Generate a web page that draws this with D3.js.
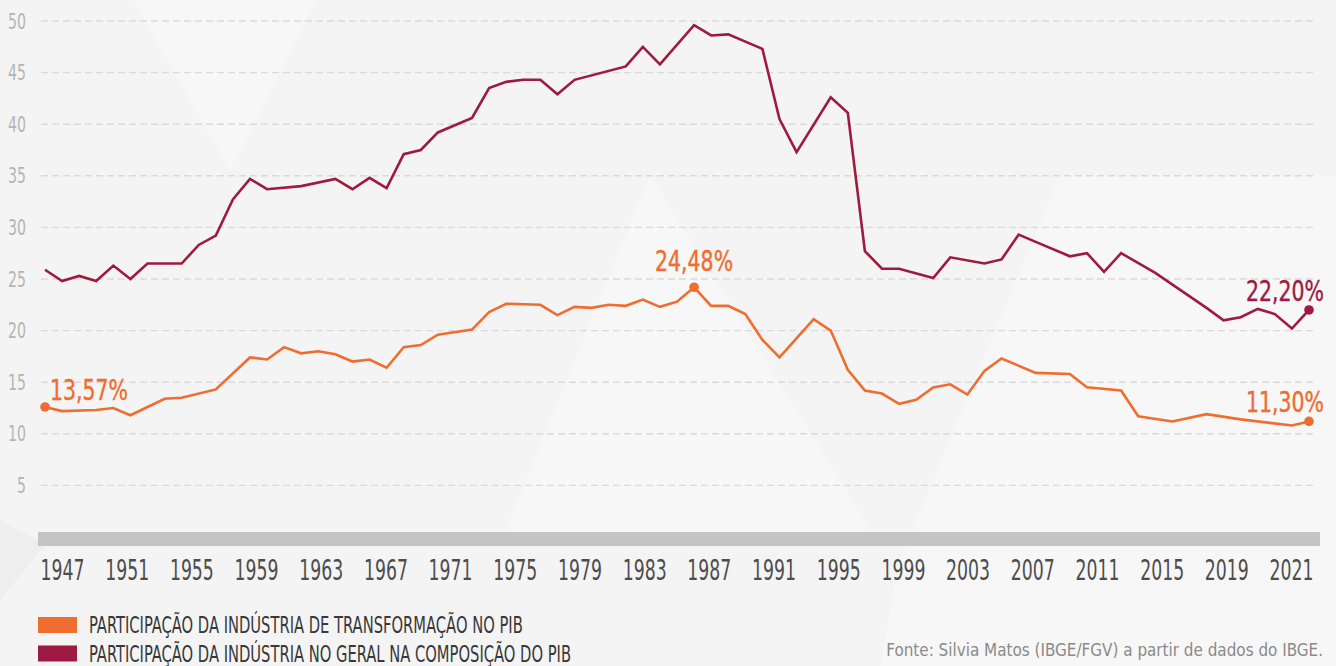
<!DOCTYPE html>
<html>
<head>
<meta charset="utf-8">
<script src="https://cdn.jsdelivr.net/npm/d3@7/dist/d3.min.js"></script>
<style>
	html, body { margin: 0; padding: 0; background: #f3f3f3; overflow: hidden; }
	text { font-family: "Liberation Sans Narrow", "Arial Narrow", "DejaVu Sans Condensed", "Liberation Sans", sans-serif; }
</style>
</head>
<body>
<div id="chart"></div>
<script>
// Participação da indústria no PIB (%)
var geralYears = [1947, 1948, 1949, 1950, 1951, 1952, 1953, 1955, 1956, 1957, 1958, 1959, 1960, 1962, 1964,
	1965, 1966, 1967, 1968, 1969, 1970, 1972, 1973, 1974, 1975, 1976, 1977, 1978, 1981, 1982, 1983, 1985,
	1986, 1987, 1989, 1990, 1991, 1993, 1994, 1995, 1996, 1997, 1999, 2000, 2002, 2003, 2004, 2005, 2007,
	2008, 2009, 2010, 2012, 2015, 2016, 2017, 2018, 2019, 2020, 2021];
var geralValues = [25.9, 24.8, 25.3, 24.8, 26.3, 25.0, 26.5, 26.5, 28.3, 29.2, 32.7, 34.7, 33.7, 34.0, 34.7,
	33.7, 34.8, 33.8, 37.1, 37.5, 39.2, 40.6, 43.5, 44.1, 44.3, 44.3, 42.9, 44.3, 45.6, 47.5, 45.8, 49.6,
	48.6, 48.7, 47.3, 40.5, 37.3, 42.6, 41.1, 27.7, 26.0, 26.0, 25.1, 27.1, 26.5, 26.9, 29.3, 28.6, 27.2,
	27.5, 25.7, 27.5, 25.6, 22.2, 21.0, 21.3, 22.1, 21.6, 20.2, 22.0];

var transfYears = [1947, 1948, 1950, 1951, 1952, 1954, 1955, 1957, 1959, 1960, 1961, 1962, 1963, 1964, 1965,
	1966, 1967, 1968, 1969, 1970, 1972, 1973, 1974, 1976, 1977, 1978, 1979, 1980, 1981, 1982, 1983, 1984,
	1985, 1986, 1987, 1988, 1989, 1990, 1992, 1993, 1994, 1995, 1996, 1997, 1998, 1999, 2000, 2001, 2002,
	2003, 2005, 2007, 2008, 2010, 2011, 2013, 2015, 2017, 2020, 2021];
var transfValues = [12.6, 12.2, 12.3, 12.5, 11.8, 13.4, 13.5, 14.3, 17.4, 17.2, 18.4, 17.8, 18.0, 17.7, 17.0,
	17.2, 16.4, 18.4, 18.6, 19.6, 20.1, 21.8, 22.6, 22.5, 21.5, 22.3, 22.2, 22.5, 22.4, 23.0, 22.3, 22.8,
	24.2, 22.4, 22.4, 21.6, 19.1, 17.4, 21.1, 20.0, 16.2, 14.2, 13.9, 12.9, 13.3, 14.5, 14.8, 13.8, 16.1,
	17.3, 15.9, 15.8, 14.5, 14.2, 11.7, 11.2, 11.9, 11.4, 10.8, 11.2];

var tickLabels = ["1947", "1951", "1955", "1959", "1963", "1967", "1971", "1975", "1979", "1983", "1987",
	"1991", "1995", "1999", "2003", "2007", "2011", "2015", "2019", "2021"];
var yTicks = [5, 10, 15, 20, 25, 30, 35, 40, 45, 50];

var seriesNames = ["PARTICIPAÇÃO DA INDÚSTRIA DE TRANSFORMAÇÃO NO PIB",
	"PARTICIPAÇÃO DA INDÚSTRIA NO GERAL NA COMPOSIÇÃO DO PIB"];
var sourceText = "Fonte: Silvia Matos (IBGE/FGV) a partir de dados do IBGE.";

// Highlighted points
var calloutSeries = ["transf", "transf", "geral", "transf"];
var calloutYears = [1947, 1985, 2021, 2021];
var calloutTexts = ["13,57%", "24,48%", "22,20%", "11,30%"];

var orange = "#ef6d2e";
var crimson = "#9e1a42";

var width = 1336;
var height = 666;

var svg = d3.select("#chart").append("svg")
	.attr("width", width)
	.attr("height", height);

// background with faint geometric shapes
svg.append("rect")
	.attr("width", width)
	.attr("height", height)
	.attr("fill", "#f4f4f4");

var shapes = [
	[[133, 0], [317, 0], [230, 170]],
	[[500, 545], [650, 175], [880, 545]],
	[[1060, 175], [1336, 175], [1336, 666], [880, 666], [900, 560]],
	[[0, 520], [45, 545], [0, 600]]
];
svg.append("g").selectAll("polygon")
	.data(shapes)
	.enter().append("polygon")
	.attr("points", function(d) { return d.join(" "); })
	.attr("fill", function(d, i) { return i == 3 ? "#ececec" : "#f8f8f8"; })
	.attr("opacity", 0.8);

var x = d3.scaleLinear()
	.domain([1947, 2021])
	.range([45, 1309]);

var y = d3.scaleLinear()
	.domain([0, 50])
	.range([537, 21]);

// squeeze a text horizontally so that it looks like the condensed face of the original
function condense(sel, k) {
	sel.attr("transform", "scale(" + k + ",1)");
}
function naturalWidth(str, size) {
	var t = svg.append("text").style("font-size", size + "px").text(str);
	var w = t.node().getComputedTextLength();
	t.remove();
	return w;
}

// Dashed gridlines
svg.append("g").selectAll(".grid")
	.data(yTicks)
	.enter().append("line")
	.attr("class", "grid")
	.attr("x1", 41)
	.attr("x2", 1315)
	.attr("y1", function(d) { return y(d); })
	.attr("y2", function(d) { return y(d); })
	.attr("stroke", "#dadada")
	.attr("stroke-width", 1.4)
	.attr("stroke-dasharray", "7,4");

// Y labels
var kY = 18 / naturalWidth("50", 21);
var yLab = svg.append("g").selectAll(".ylab")
	.data(yTicks)
	.enter().append("g")
	.attr("class", "ylab")
	.attr("transform", function(d) { return "translate(26," + y(d) + ")"; })
	.append("text")
	.attr("text-anchor", "end")
	.attr("dy", "0.36em")
	.style("font-size", "21px")
	.attr("fill", "#b4b4b4")
	.text(function(d) { return d; });
condense(yLab, kY);

// gray base bar
svg.append("rect")
	.attr("x", 38)
	.attr("y", 532)
	.attr("width", 1282)
	.attr("height", 14)
	.attr("fill", "#c4c4c4");

// Tick labels are spread evenly under the bar
var labelX = d3.scalePoint()
	.domain(tickLabels)
	.range([62, 1291]);

var xAxis = d3.axisBottom(labelX).tickSize(0).tickPadding(0);
var xg = svg.append("g")
	.attr("class", "axis x-axis")
	.attr("transform", "translate(0,580)")
	.call(xAxis);
xg.select(".domain").remove();
var kX = 44 / naturalWidth("1947", 29);
xg.selectAll("text")
	.attr("y", 0)
	.attr("dy", 0)
	.attr("fill", "#4d4d4d")
	.style("font-size", "29px")
	.style("font-family", null)
	.call(condense, kX);

// Lines
var series = {
	geral: geralYears.map(function(d, i) { return {year: d, value: geralValues[i]}; }),
	transf: transfYears.map(function(d, i) { return {year: d, value: transfValues[i]}; })
};
var colors = {geral: crimson, transf: orange};

var line = d3.line()
	.x(function(d) { return x(d.year); })
	.y(function(d) { return y(d.value); });

["geral", "transf"].forEach(function(key) {
	svg.append("path")
		.datum(series[key])
		.attr("fill", "none")
		.attr("stroke", colors[key])
		.attr("stroke-width", 2.6)
		.attr("d", line);
});

// Callouts
var callouts = calloutTexts.map(function(t, i) {
	var pts = series[calloutSeries[i]];
	var p = pts.filter(function(d) { return d.year == calloutYears[i]; })[0];
	return {text: t, key: calloutSeries[i], year: p.year, value: p.value};
});

svg.append("g").selectAll(".dot")
	.data(callouts)
	.enter().append("circle")
	.attr("class", "dot")
	.attr("r", 4.8)
	.attr("cx", function(d) { return x(d.year); })
	.attr("cy", function(d) { return y(d.value); })
	.attr("fill", function(d) { return colors[d.key]; });

var kA = 78 / naturalWidth("24,48%", 28);
var calloutLab = svg.append("g").selectAll(".callout")
	.data(callouts)
	.enter().append("g")
	.attr("class", "callout")
	.attr("transform", function(d, i) {
		var px = x(d.year), py = y(d.value);
		if (i == 0) return "translate(" + (px + 5) + "," + (py - 7) + ")";
		if (i == 1) return "translate(" + px + "," + (py - 16) + ")";
		return "translate(" + (px + 15) + "," + (py - 9) + ")";
	})
	.append("text")
	.attr("text-anchor", function(d, i) { return i == 0 ? "start" : (i == 1 ? "middle" : "end"); })
	.style("font-size", "28px")
	.attr("fill", function(d) { return colors[d.key]; })
	.attr("stroke", function(d) { return colors[d.key]; })
	.attr("stroke-width", 0.4)
	.text(function(d) { return d.text; });
condense(calloutLab, kA);

// Legend
var kL = 434 / naturalWidth(seriesNames[0], 23);
var legend = svg.append("g").selectAll(".legend")
	.data(seriesNames)
	.enter().append("g")
	.attr("class", "legend")
	.attr("transform", function(d, i) { return "translate(38," + (617 + i * 28.5) + ")"; });

legend.append("rect")
	.attr("width", 39)
	.attr("height", 16)
	.attr("fill", function(d, i) { return i == 0 ? orange : crimson; });

legend.append("g")
	.attr("transform", "translate(51,16)")
	.append("text")
	.style("font-size", "23px")
	.attr("fill", "#383838")
	.text(function(d) { return d; })
	.call(condense, kL);

// Source
var kS = 437 / naturalWidth(sourceText, 18);
svg.append("g")
	.attr("transform", "translate(1323,656)")
	.append("text")
	.attr("text-anchor", "end")
	.style("font-size", "18px")
	.attr("fill", "#8a8a8a")
	.text(sourceText)
	.call(condense, kS);
</script>
</body>
</html>
